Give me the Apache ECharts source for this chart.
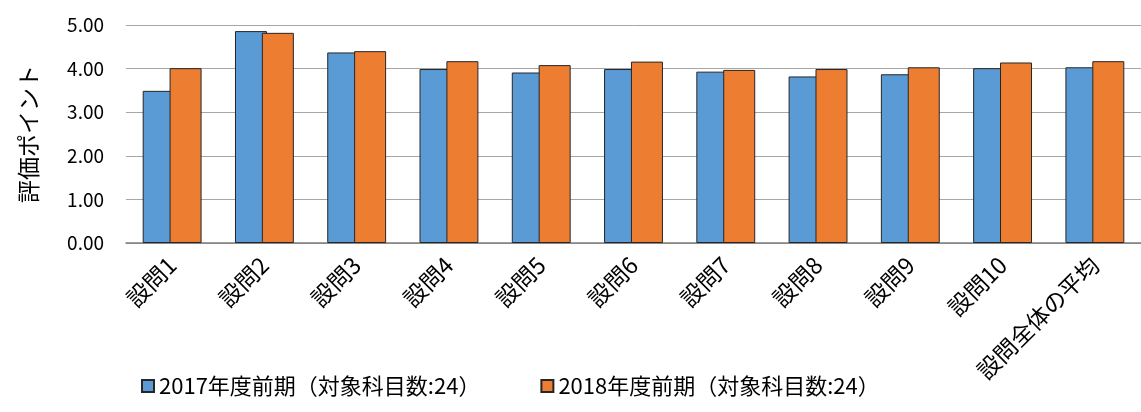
<!DOCTYPE html>
<html><head><meta charset="utf-8">
<script src="https://cdn.jsdelivr.net/npm/echarts@6/dist/echarts.min.js"></script>
<style>html,body{margin:0;padding:0;background:#fff}#c{width:1141px;height:412px}</style>
</head><body><div id="c"></div>
<script>
const categories = ['設問1','設問2','設問3','設問4','設問5','設問6','設問7','設問8','設問9','設問10','設問全体の平均'];
const series2017 = [3.49, 4.86, 4.37, 3.99, 3.91, 3.99, 3.93, 3.82, 3.87, 4.01, 4.03];
const series2018 = [4.01, 4.82, 4.40, 4.17, 4.08, 4.16, 3.97, 3.99, 4.03, 4.14, 4.17];
const seriesNames = ['2017年度前期（対象科目数:24）', '2018年度前期（対象科目数:24）'];
const yTicks = [0, 1, 2, 3, 4, 5];

const font = '"Noto Sans CJK JP", "Noto Sans", sans-serif';
const chart = echarts.init(document.getElementById('c'));
chart.setOption({
  animation: false,
  textStyle: { fontFamily: font },
  grid: { left: 126, right: -14, top: 25, bottom: 169, containLabel: false },
  legend: {
    left: 136, top: 370,
    itemWidth: 12, itemHeight: 12, itemGap: 60,
    icon: 'rect',
    textStyle: { fontSize: 22, color: '#000', fontFamily: font },
    data: seriesNames
  },
  xAxis: {
    type: 'category', data: categories,
    axisLine: { lineStyle: { color: '#7f7f7f', width: 1.5 } },
    axisTick: { show: false },
    axisLabel: { rotate: 45, fontSize: 23, color: '#000', margin: 18, interval: 0, fontFamily: font }
  },
  yAxis: {
    type: 'value', min: yTicks[0], max: yTicks[yTicks.length - 1], interval: 1,
    name: '評価ポイント', nameLocation: 'middle', nameGap: 86, nameRotate: 90,
    nameTextStyle: { fontSize: 23, color: '#000', fontFamily: font },
    axisLine: { show: false }, axisTick: { show: false },
    splitLine: { lineStyle: { color: '#a6a6a6', width: 1 } },
    axisLabel: { fontSize: 19, color: '#000', margin: 22, formatter: v => v.toFixed(2), fontFamily: font }
  },
  series: [
    { name: seriesNames[0], type: 'bar', data: series2017, barWidth: 32, barGap: '-16%',
      itemStyle: { color: '#5b9bd5', borderColor: '#262626', borderWidth: 1 } },
    { name: seriesNames[1], type: 'bar', data: series2018, barWidth: 32,
      itemStyle: { color: '#ed7d31', borderColor: '#262626', borderWidth: 1 } }
  ]
});
</script></body></html>
